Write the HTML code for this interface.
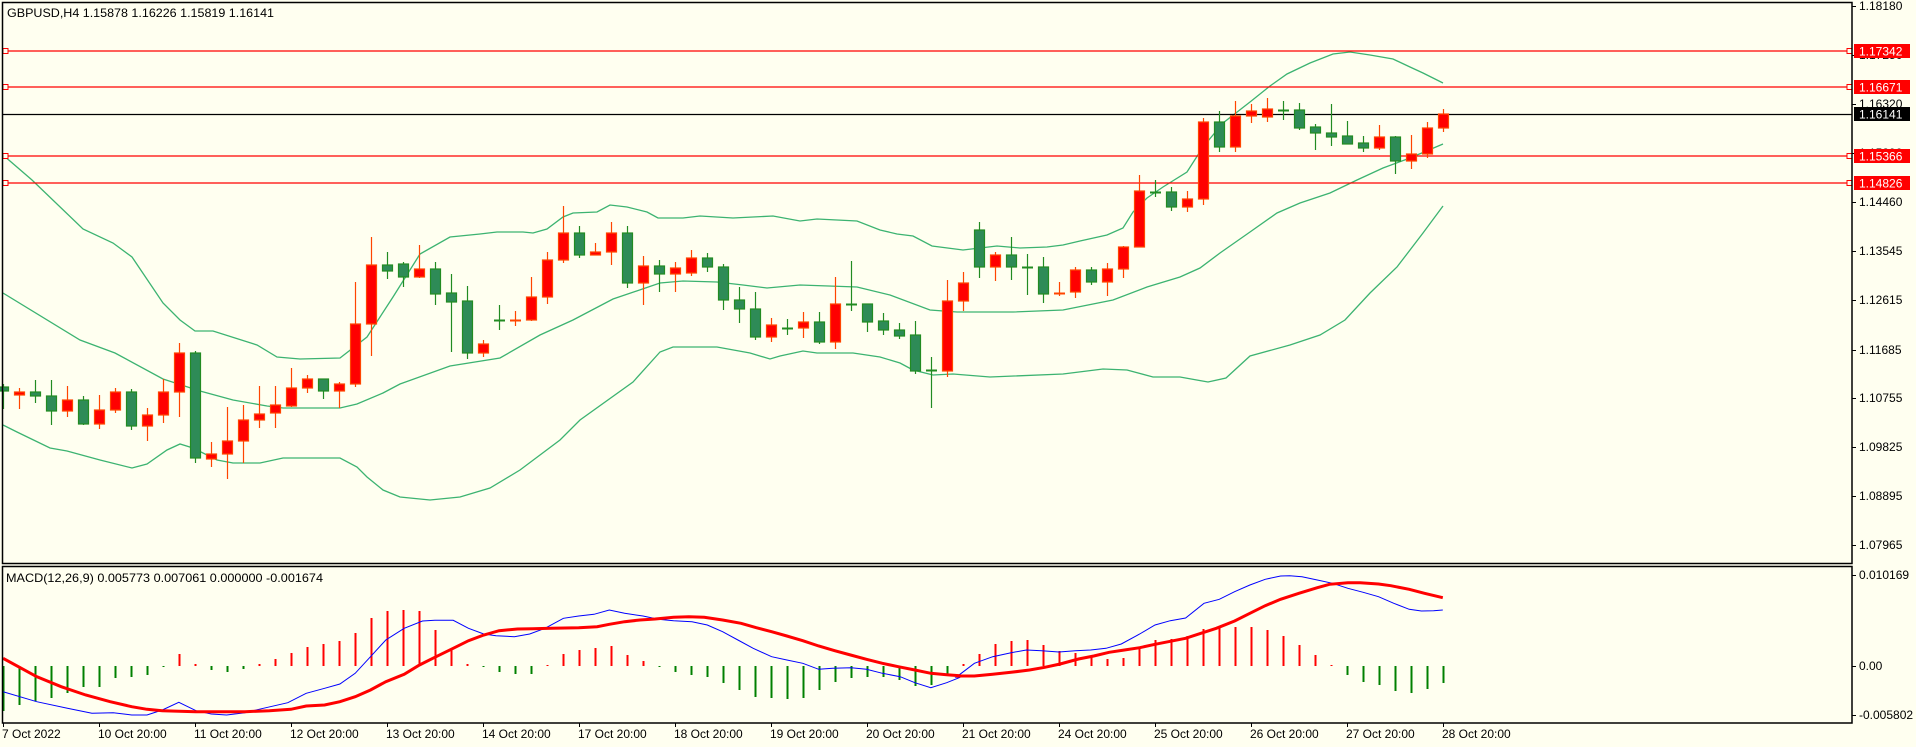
<!DOCTYPE html>
<html><head><meta charset="utf-8"><style>
html,body{margin:0;padding:0;background:#fffff0;}
svg{display:block;font-family:"Liberation Sans",sans-serif;}
</style></head><body>
<svg id="s" width="1916" height="747" viewBox="0 0 1916 747" xmlns="http://www.w3.org/2000/svg">
<defs>
<clipPath id="cm"><rect x="3" y="3" width="1849" height="560"/></clipPath>
<clipPath id="cd"><rect x="3" y="567" width="1849" height="155"/></clipPath>
</defs>
<rect width="1916" height="747" fill="#fffff0"/>
<g id="bands" clip-path="url(#cm)"></g>
<g id="hl"></g>
<g id="candles"></g>
<g id="macd" clip-path="url(#cd)"></g>
<!-- borders -->
<g stroke="#000" stroke-width="1.5" fill="none">
<rect x="2.5" y="2.5" width="1849.5" height="561"/>
<rect x="2.5" y="566.5" width="1849.5" height="156.5"/>
</g>
<g id="ticks" stroke="#000" stroke-width="1"></g>
<g font-size="12" fill="#000">
<text x="7" y="17" textLength="267" lengthAdjust="spacingAndGlyphs">GBPUSD,H4  1.15878 1.16226 1.15819 1.16141</text>
<text x="6" y="582" textLength="317" lengthAdjust="spacingAndGlyphs">MACD(12,26,9) 0.005773 0.007061 0.000000 -0.001674</text>
<text x="1859" y="10">1.18180</text>
<text x="1859" y="59">1.17250</text>
<text x="1859" y="108">1.16320</text>
<text x="1859" y="157">1.15390</text>
<text x="1859" y="206">1.14460</text>
<text x="1859" y="255">1.13545</text>
<text x="1859" y="304">1.12615</text>
<text x="1859" y="354">1.11685</text>
<text x="1859" y="402">1.10755</text>
<text x="1859" y="451">1.09825</text>
<text x="1859" y="500">1.08895</text>
<text x="1859" y="549">1.07965</text>
<text x="1859" y="579">0.010169</text>
<text x="1859" y="670">0.00</text>
<text x="1859" y="719">-0.005802</text>
<g font-size="12">
<text x="2" y="738">7 Oct 2022</text>
<text x="98" y="738">10 Oct 20:00</text>
<text x="194" y="738">11 Oct 20:00</text>
<text x="290" y="738">12 Oct 20:00</text>
<text x="386" y="738">13 Oct 20:00</text>
<text x="482" y="738">14 Oct 20:00</text>
<text x="578" y="738">17 Oct 20:00</text>
<text x="674" y="738">18 Oct 20:00</text>
<text x="770" y="738">19 Oct 20:00</text>
<text x="866" y="738">20 Oct 20:00</text>
<text x="962" y="738">21 Oct 20:00</text>
<text x="1058" y="738">24 Oct 20:00</text>
<text x="1154" y="738">25 Oct 20:00</text>
<text x="1250" y="738">26 Oct 20:00</text>
<text x="1346" y="738">27 Oct 20:00</text>
<text x="1442" y="738">28 Oct 20:00</text>
</g>
</g>
<g id="boxes">
<rect x="1854" y="44" width="56" height="14" fill="#ff0000"/><text x="1859" y="55.5" font-size="12" fill="#fff">1.17342</text>
<rect x="1854" y="80" width="56" height="14" fill="#ff0000"/><text x="1859" y="91.5" font-size="12" fill="#fff">1.16671</text>
<rect x="1854" y="107" width="56" height="14" fill="#000"/><text x="1859" y="118.5" font-size="12" fill="#fff">1.16141</text>
<rect x="1854" y="149" width="56" height="14" fill="#ff0000"/><text x="1859" y="160.5" font-size="12" fill="#fff">1.15366</text>
<rect x="1854" y="176" width="56" height="14" fill="#ff0000"/><text x="1859" y="187.5" font-size="12" fill="#fff">1.14826</text>
</g>
</svg>
<script>
var NS="http://www.w3.org/2000/svg";
function el(p,t,a){var e=document.createElementNS(NS,t);for(var k in a)e.setAttribute(k,a[k]);p.appendChild(e);return e;}
var X=function(i){return 3+16*i;};
// horizontal lines
var hl=document.getElementById('hl');
[[51,'#ff0000'],[87,'#ff0000'],[156,'#ff0000'],[183,'#ff0000'],[114.5,'#000']].forEach(function(l){
 el(hl,'line',{x1:3,x2:1852,y1:l[0],y2:l[0],stroke:l[1],'stroke-width':1.3});
 if(l[1]!='#000'){el(hl,'rect',{x:3,y:l[0]-2.5,width:5,height:5,fill:'#fffff0',stroke:'#ff0000','stroke-width':1});
 el(hl,'rect',{x:1847,y:l[0]-2.5,width:5,height:5,fill:'#fffff0',stroke:'#ff0000','stroke-width':1});}
});
// bands
var up=[[3,155],[32,180],[83,229],[113,243],[132,257],[163,303],[180,320],[195,331],[213,331],[257,345],[277,357],[300,359],[340,358],[367,337],[393,297],[420,254],[450,237],[480,234],[497,232],[523,232],[533,233],[547,229],[563,217],[573,213],[597,212],[610,205],[627,207],[647,212],[658,218],[683,218],[700,216],[733,218],[773,216],[800,221],[817,219],[857,221],[880,230],[897,234],[913,236],[932,246],[963,250],[997,246],[1020,248],[1047,247],[1063,245],[1080,241],[1107,235],[1123,228],[1133,212],[1147,198],[1163,187],[1187,172],[1203,147],[1223,123],[1250,102],[1270,86],[1287,74],[1310,63],[1333,54],[1350,52],[1370,55],[1393,59],[1410,67],[1423,73],[1443,83]];
var mid=[[3,293],[80,340],[115,353],[163,379],[200,391],[233,400],[267,406],[283,408],[340,408],[357,404],[383,393],[400,384],[450,366],[500,358],[540,335],[573,320],[613,299],[660,283],[683,281],[717,282],[743,285],[767,288],[800,285],[857,287],[890,295],[930,310],[957,312],[1013,312],[1063,310],[1113,300],[1147,287],[1180,277],[1200,268],[1220,253],[1250,232],[1277,213],[1300,203],[1330,193],[1357,180],[1383,168],[1410,158],[1443,144]];
var lo=[[3,425],[17,432],[50,448],[67,451],[100,460],[132,468],[147,464],[167,450],[180,444],[193,448],[217,460],[233,463],[260,463],[283,458],[340,458],[357,467],[367,477],[383,490],[400,497],[430,500],[460,497],[490,488],[520,470],[560,440],[580,420],[633,382],[660,352],[673,347],[717,347],[750,353],[770,359],[780,356],[803,351],[817,353],[853,353],[880,357],[900,363],[913,370],[933,375],[953,374],[990,377],[1063,374],[1103,369],[1127,370],[1153,377],[1180,377],[1208,382],[1226,378],[1250,356],[1290,345],[1320,335],[1345,320],[1370,293],[1397,267],[1423,233],[1443,206]];
var bg=document.getElementById('bands');
[up,mid,lo].forEach(function(a){el(bg,'polyline',{points:a.map(function(p){return p.join(',')}).join(' '),fill:'none',stroke:'#3cb371','stroke-width':1.3});});
// candles [c, bodyTop, bodyBot, wickTop, wickBot]
var C=[['G',387,391,384,409],['R',392,395,388,409],['G',392,396,380,403],['G',396,411,380,425],['R',400,411,386,417],['G',400,424,396,425],['R',410,424,395,429],['R',392,410,388,413],['G',392,426,389,430],['R',415,426,408,441],
['R',392,415,379,423],['R',353,392,343,417],['G',353,458,351,463],['R',454,459,442,467],['R',441,454,407,479],['R',420,441,405,463],['R',414,420,386,428],['R',405,413,386,428],['R',388,406,368,407],['R',379,388,375,393],
['G',379,391,379,399],['R',384,391,382,408],['R',324,384,282,387],['R',265,324,237,356],['G',265,271,252,279],['G',264,277,262,287],['R',269,277,245,278],['G',269,294,262,305],['G',293,302,274,352],['G',301,353,286,359],
['R',344,353,340,357],['G',320,320,305,330],['R',320,320,311,326],['R',297,320,277,321],['R',260,297,252,304],['R',233,260,206,263],['G',233,255,226,258],['R',252,255,243,255],['R',233,252,222,265],['G',233,283,226,288],
['R',266,283,256,305],['G',266,274,260,292],['R',268,274,262,292],['R',258,273,250,276],['G',258,267,253,272],['G',267,300,264,310],['G',300,309,287,323],['G',309,337,292,340],['R',325,337,318,342],['G',328,328,319,335],
['R',322,328,312,338],['G',322,342,312,344],['R',304,342,277,349],['G',304,304,261,311],['G',304,322,304,332],['G',321,330,313,335],['G',330,336,323,339],['G',335,371,321,374],['G',370,370,357,408],['R',301,371,280,377],
['R',283,301,272,311],['G',230,267,222,278],['R',255,267,252,281],['G',255,267,237,280],['G',267,267,254,295],['G',267,294,257,303],['R',293,293,282,296],['R',270,292,267,298],['G',270,282,267,285],['R',269,282,263,296],
['R',247,269,246,278],['R',191,247,175,247],['G',192,192,180,197],['G',192,207,187,211],['R',199,207,191,212],['R',122,199,118,205],['G',122,147,111,152],['R',116,147,101,152],['R',111,116,104,123],['R',109,117,98,122],
['G',110,110,101,120],['G',110,128,103,130],['G',127,133,124,150],['G',133,137,104,146],['G',136,144,121,144],['G',143,148,136,152],['R',137,148,125,150],['G',137,161,136,174],['R',154,161,135,169],['R',128,154,122,158],['R',114,128,109,132]];
var cg=document.getElementById('candles');
C.forEach(function(c,i){var x=X(i)+0.5;var st=c[0]=='R'?'#ff4500':'#228b22';var fl=c[0]=='R'?'#ff0000':'#2e8b57';
 el(cg,'line',{x1:x,x2:x,y1:c[3],y2:c[4],stroke:st,'stroke-width':1.2});
 if(c[2]-c[1]<1){el(cg,'line',{x1:x-5.5,x2:x+5.5,y1:c[1]+0.5,y2:c[1]+0.5,stroke:st,'stroke-width':2});}
 else el(cg,'rect',{x:x-5,y:c[1],width:10,height:c[2]-c[1],fill:fl,stroke:st,'stroke-width':1.2});
});
// macd histogram
var H=[711,705,701,698,693,687,687,678,677,675,667,654,664,670,672,669,664,659,653,647,644,641,633,618,611,610,611,630,649,664,667,672,674,674,665,654,650,648,646,655,661,667,672,675,677,683,690,697,698,699,698,690,682,678,677,677,680,686,685,675,664,654,644,641,640,645,651,653,657,659,658,649,640,639,636,629,627,627,627,630,636,645,655,665,675,682,685,691,693,689,683];
var mg=document.getElementById('macd');
H.forEach(function(y,i){var x=X(i)+0.5;var z=666;if(Math.abs(y-z)<1)y=z+(y<z?-1:1);
 el(mg,'line',{x1:x,x2:x,y1:z,y2:y,stroke:y<z?'#ff0000':'#008000','stroke-width':2});});
var b7=[[5,395],[60,425],[110,445],[150,460],[185,458],[215,465],[240,465],[265,450],[292,427],[320,452],[345,462],[370,465],[400,458],[430,445],[470,428],[500,400],[530,385],[555,372],[580,340],[605,290],[630,240],[660,205],[690,183],[710,181],[740,181],[765,205],[790,222],[810,227],[840,230],[865,222],[890,205],[920,175],[945,168],[970,163],[995,150],[1020,160],[1050,168],[1075,178],[1100,182],[1130,185],[1155,195],[1180,215],[1205,240],[1230,265],[1260,290],[1285,300],[1311,310],[1337,328],[1360,325],[1390,323],[1415,328],[1441,340],[1470,350],[1494,368],[1520,383],[1546,368],[1568,352]];
var b8=[[0,352],[30,310],[60,290],[90,278],[115,270],[140,272],[168,276],[195,272],[220,270],[245,265],[270,252],[300,222],[325,195],[350,182],[375,174],[405,130],[430,118],[455,95],[480,75],[505,58],[530,48],[545,47],[565,50],[590,60],[615,70],[640,85],[665,97],[690,110],[715,130],[740,148],[760,153],[780,152],[795,150]];
var r7=[[5,295],[30,320],[60,350],[100,380],[140,405],[180,425],[215,440],[240,448],[265,452],[320,455],[400,455],[440,452],[475,448],[500,438],[530,435],[555,425],[580,410],[605,390],[630,365],[660,343],[685,315],[710,292],[740,265],[765,242],[790,225],[815,212],[845,207],[870,206],[900,205],[945,203],[975,200],[995,193],[1020,185],[1045,180],[1070,177],[1100,172],[1125,170],[1150,172],[1180,180],[1210,190],[1235,203],[1260,215],[1285,228],[1311,242],[1337,258],[1363,272],[1389,285],[1415,298],[1441,310],[1467,320],[1494,330],[1520,340],[1546,344],[1568,347]];
var r8=[[0,348],[30,348],[60,343],[90,337],[120,330],[145,322],[170,312],[200,297],[225,288],[250,277],[275,270],[300,263],[325,253],[350,244],[375,235],[400,220],[425,205],[455,183],[480,160],[505,137],[530,118],[560,100],[590,83],[610,73],[640,68],[660,68],[690,72],[710,77],[740,88],[765,100],[795,113]];
function cv(a,o){return a.map(function(p){return (p[0]/1.633+o).toFixed(1)+','+(p[1]/3+560).toFixed(1)}).join(' ');}
el(mg,'polyline',{points:cv(b7,0)+' '+cv(b8,956),fill:'none',stroke:'#0000ff','stroke-width':1});
el(mg,'polyline',{points:cv(r7,0)+' '+cv(r8,956),fill:'none',stroke:'#ff0000','stroke-width':3});
// ticks
var tg=document.getElementById('ticks');
[6,55,104,153,202,251,300,350,398,447,496,545,575,666,715].forEach(function(y){el(tg,'line',{x1:1852,x2:1856,y1:y+0.5,y2:y+0.5});});
for(var k=0;k<16;k++){var x=3+96*k+0.5;el(tg,'line',{x1:x,x2:x,y1:723,y2:727});}
</script>
</body></html>
